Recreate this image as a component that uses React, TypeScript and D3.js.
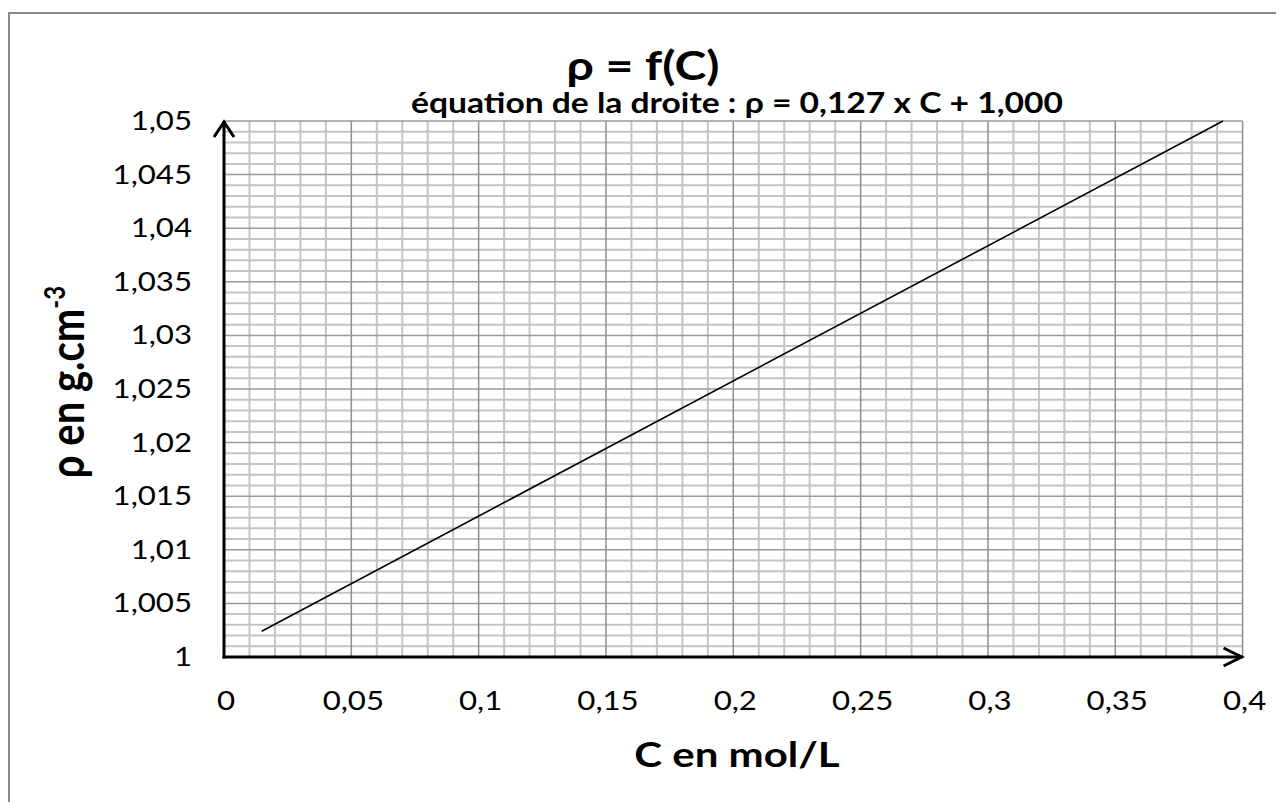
import React, { useRef, useEffect } from "react";
import * as d3 from "d3";

// valeurs
const xTicks = [0, 0.05, 0.1, 0.15, 0.2, 0.25, 0.3, 0.35, 0.4];
const xTickLabels = ["0", "0,05", "0,1", "0,15", "0,2", "0,25", "0,3", "0,35", "0,4"];
const yTicks = [1, 1.005, 1.01, 1.015, 1.02, 1.025, 1.03, 1.035, 1.04, 1.045, 1.05];
const yTickLabels = ["1", "1,005", "1,01", "1,015", "1,02", "1,025", "1,03", "1,035", "1,04", "1,045", "1,05"];
const concentration = [0.0148, 0.3923];
const masseVolumique = [1.0024, 1.05];

const FONT = "Lato, 'Open Sans', sans-serif";
const SX = 1.2; // le graphique d'origine est étiré horizontalement

const App = () => {
  const svgRef = useRef(null);

  useEffect(() => {
    const svg = d3.select(svgRef.current);
    svg.selectAll("*").remove();

    const width = 1276;
    const height = 794;
    svg.attr("width", width).attr("height", height);

    // coordonnées de la page (marge du body = 8px)
    const g = svg.append("g").attr("transform", "translate(-8,-8)");

    const left = 224;
    const right = 1242.6;
    const top = 121;
    const bottom = 657;

    const xScale = d3.scaleLinear().domain([0, 0.4]).range([left, right]);
    const yScale = d3.scaleLinear().domain([1, 1.05]).range([bottom, top]);

    // cadre du graphique
    g.append("rect")
      .attr("x", 9)
      .attr("y", 13)
      .attr("width", 1400)
      .attr("height", 900)
      .attr("fill", "white")
      .attr("stroke", "#8a8a8a")
      .attr("stroke-width", 2);

    // quadrillage mineur
    const minorX = d3.range(0, 41).map((i) => i / 100);
    const minorY = d3.range(0, 51).map((i) => 1 + i / 1000);

    g.append("g")
      .selectAll("line")
      .data(minorX.filter((_, i) => i % 5 !== 0))
      .enter()
      .append("line")
      .attr("x1", (d) => xScale(d))
      .attr("x2", (d) => xScale(d))
      .attr("y1", top)
      .attr("y2", bottom)
      .attr("stroke", "#c4c4c4")
      .attr("stroke-width", 2);

    g.append("g")
      .selectAll("line")
      .data(minorY.filter((_, i) => i % 5 !== 0))
      .enter()
      .append("line")
      .attr("x1", left)
      .attr("x2", right)
      .attr("y1", (d) => yScale(d))
      .attr("y2", (d) => yScale(d))
      .attr("stroke", "#c4c4c4")
      .attr("stroke-width", 2);

    // quadrillage principal
    g.append("g")
      .selectAll("line")
      .data(xTicks.slice(1))
      .enter()
      .append("line")
      .attr("x1", (d) => xScale(d))
      .attr("x2", (d) => xScale(d))
      .attr("y1", top)
      .attr("y2", bottom)
      .attr("stroke", "#8e8e8e")
      .attr("stroke-width", 1.5);

    g.append("g")
      .selectAll("line")
      .data(yTicks.slice(1))
      .enter()
      .append("line")
      .attr("x1", left)
      .attr("x2", right)
      .attr("y1", (d) => yScale(d))
      .attr("y2", (d) => yScale(d))
      .attr("stroke", "#9a9a9a")
      .attr("stroke-width", 1.5);

    // droite
    const pts = concentration.map((c, i) => [c, masseVolumique[i]]);
    const line = d3
      .line()
      .x((d) => xScale(d[0]))
      .y((d) => yScale(d[1]));
    g.append("path")
      .datum(pts)
      .attr("fill", "none")
      .attr("stroke", "black")
      .attr("stroke-width", 1.6)
      .attr("d", line);

    // axes avec flèches
    g.append("line")
      .attr("x1", left)
      .attr("x2", left)
      .attr("y1", bottom + 1.5)
      .attr("y2", top)
      .attr("stroke", "black")
      .attr("stroke-width", 3);
    g.append("line")
      .attr("x1", left - 1.5)
      .attr("x2", right)
      .attr("y1", bottom)
      .attr("y2", bottom)
      .attr("stroke", "black")
      .attr("stroke-width", 3);
    g.append("path")
      .attr("d", `M${left - 10},${top + 16}L${left},${top + 1}L${left + 10},${top + 16}`)
      .attr("fill", "none")
      .attr("stroke", "black")
      .attr("stroke-width", 3);
    g.append("path")
      .attr("d", `M${right - 19},${bottom - 9}L${right - 1},${bottom}L${right - 19},${bottom + 9}`)
      .attr("fill", "none")
      .attr("stroke", "black")
      .attr("stroke-width", 3);

    // étiquettes des graduations
    g.append("g")
      .selectAll("text")
      .data(xTicks)
      .enter()
      .append("text")
      .attr("transform", (d) => `translate(${xScale(d) + 2},710) scale(${SX},1)`)
      .attr("text-anchor", "middle")
      .style("font-family", FONT)
      .style("font-size", "26px")
      .attr("fill", "black")
      .text((d, i) => xTickLabels[i]);

    g.append("g")
      .selectAll("text")
      .data(yTicks)
      .enter()
      .append("text")
      .attr("transform", (d) => `translate(192,${yScale(d) + 9}) scale(${SX},1)`)
      .attr("text-anchor", "end")
      .style("font-family", FONT)
      .style("font-size", "26px")
      .attr("fill", "black")
      .text((d, i) => yTickLabels[i]);

    // titres
    g.append("text")
      .attr("transform", `translate(643,80) scale(${SX},1)`)
      .attr("text-anchor", "middle")
      .style("font-family", FONT)
      .style("font-size", "40px")
      .style("font-weight", "bold")
      .text("ρ = f(C)");

    g.append("text")
      .attr("transform", `translate(737,113) scale(${SX},1)`)
      .attr("text-anchor", "middle")
      .style("font-family", FONT)
      .style("font-size", "28px")
      .style("font-weight", "bold")
      .text("équation de la droite : ρ = 0,127 x C + 1,000");

    g.append("text")
      .attr("transform", `translate(737,767) scale(${SX},1)`)
      .attr("text-anchor", "middle")
      .style("font-family", FONT)
      .style("font-size", "35px")
      .style("font-weight", "bold")
      .text("C en mol/L");

    const yTitle = g
      .append("text")
      .attr("transform", `translate(84,382) scale(${SX},1) rotate(-90)`)
      .attr("text-anchor", "middle")
      .style("font-family", FONT)
      .style("font-size", "40px")
      .style("font-weight", "bold");
    yTitle.append("tspan").text("ρ en g.cm");
    yTitle
      .append("tspan")
      .attr("dy", -16)
      .style("font-size", "24px")
      .text("-3");
  }, []);

  return <svg ref={svgRef} style={{ display: "block" }} />;
};

export default App;
